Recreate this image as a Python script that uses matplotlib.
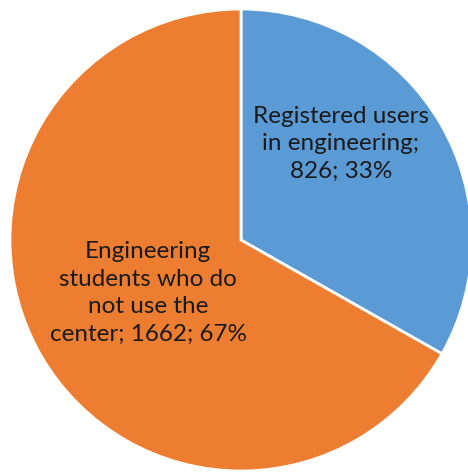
import matplotlib
matplotlib.use("Agg")
import matplotlib.pyplot as plt

categories = ["Registered users\nin engineering", "Engineering\nstudents who do\nnot use the\ncenter"]
values = [826, 1662]
percents = [33, 67]
colors = ["#5B9BD5", "#ED7D31"]

W, H = 468, 472
fig = plt.figure(figsize=(W / 100, H / 100), dpi=100)
cx, cy, r = 241, 240, 231
ax = fig.add_axes([(cx - r) / W, (H - cy - r) / H, 2 * r / W, 2 * r / H])
wedges, _ = ax.pie(values, colors=colors, startangle=90, counterclock=False,
                   radius=1.0, wedgeprops=dict(edgecolor="white", linewidth=2))
ax.set_xlim(-1, 1)
ax.set_ylim(-1, 1)
ax.set_aspect("equal")
ax.axis("off")

label_texts = [
    "Registered users\nin engineering;\n%d; %d%%" % (values[0], percents[0]),
    "Engineering\nstudents who do\nnot use the\ncenter; %d; %d%%" % (values[1], percents[1]),
]
positions = [((341 - cx) / r, (cy - 144) / r), ((148 - cx) / r, (cy - 293) / r)]
for txt, (x, y) in zip(label_texts, positions):
    ax.text(x, y, txt, ha="center", va="center", fontsize=17.5, family="Lato",
            color="#1a1a1a", linespacing=1.38)

fig.savefig("out.png", dpi=100)
